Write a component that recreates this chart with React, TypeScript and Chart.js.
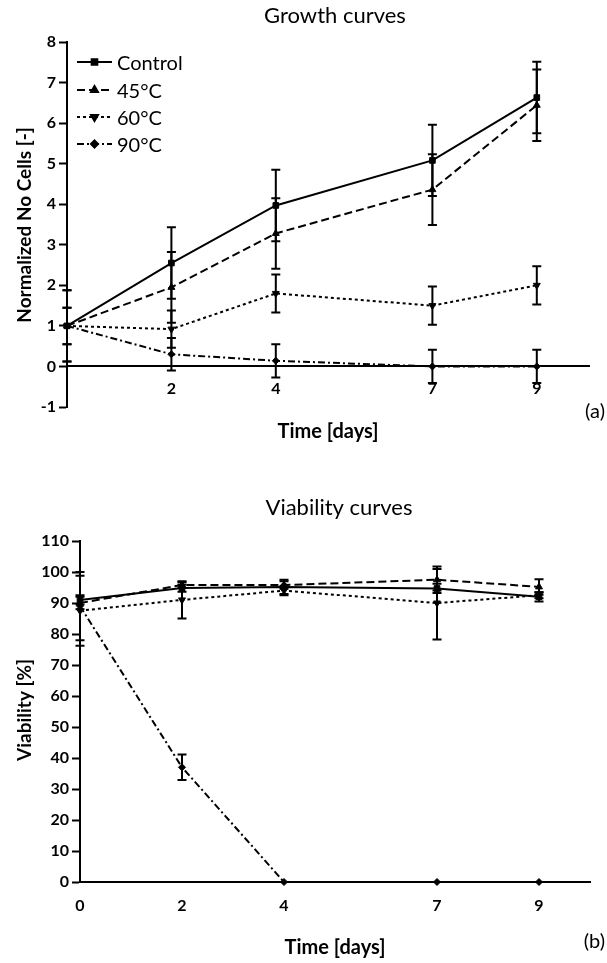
import React, { useEffect, useRef } from 'react';
import { Chart, registerables } from 'chart.js';
import { drawPoint } from 'chart.js/helpers';

Chart.register(...registerables);

// ---------- data ----------
const days = [0, 2, 4, 7, 9];
const seriesNames = ['Control', '45°C', '60°C', '90°C'];

const growthControl = [1, 2.55, 3.97, 5.08, 6.63];
const growth45 = [1, 1.95, 3.28, 4.36, 6.44];
const growth60 = [1, 0.92, 1.8, 1.5, 2.0];
const growth90 = [1, 0.3, 0.14, 0.0, 0.0];

const growthErrControl = [0.88, 0.88, 0.88, 0.88, 0.88];
const growthErr45 = [0.88, 0.87, 0.87, 0.87, 0.88];
const growthErr60 = [0.45, 0.46, 0.47, 0.47, 0.47];
const growthErr90 = [0.45, 0.4, 0.41, 0.41, 0.41];

const viaControl = [91, 94.8, 95.2, 94.7, 92];
const via45 = [90, 95.8, 95.8, 97.5, 95.2];
const via60 = [87.5, 91, 94, 90, 92.5];
const via90 = [89, 37, 0, 0, 0];

const viaErrControl = [1.5, 1.2, 2.3, 1.5, 1.5];
const viaErr45 = [2, 1, 1.2, 3.5, 2.5];
const viaErr60 = [11.3, 6, 1.5, 11.8, 1];
const viaErr90 = [11, 4.1, 0, 0, 0];

const growthTicksX = [2, 4, 7, 9];
const viabilityTicksX = [0, 2, 4, 7, 9];

// ---------- styles ----------
const FONT = 'Lato, "Open Sans", sans-serif';
const seriesStyles = [
  { dash: [] as number[], pointStyle: 'rect', rotation: 0, radius: 4 },
  { dash: [8, 4], pointStyle: 'triangle', rotation: 0, radius: 4 },
  { dash: [3, 3], pointStyle: 'triangle', rotation: 180, radius: 4 },
  { dash: [7, 3, 2, 3], pointStyle: 'rectRot', rotation: 0, radius: 3.5 },
];

function makeDatasets(values: number[][], errors: number[][]) {
  return values.map((vals, i) => {
    const st = seriesStyles[i];
    return {
      label: seriesNames[i],
      data: days.map((d, j) => ({ x: d, y: vals[j] })),
      errors: errors[i],
      borderColor: '#000',
      backgroundColor: '#000',
      borderWidth: 2,
      borderDash: st.dash,
      pointStyle: st.pointStyle,
      pointRotation: st.rotation,
      pointRadius: st.radius,
      pointBorderWidth: 1,
      pointBackgroundColor: '#000',
      pointBorderColor: '#000',
      tension: 0,
      fill: false,
      clip: false,
    };
  });
}

const errorBarPlugin = {
  id: 'errorBars',
  afterDatasetsDraw(chart: any) {
    const { ctx } = chart;
    const x = chart.scales.x;
    const y = chart.scales.y;
    ctx.save();
    ctx.strokeStyle = '#000';
    ctx.lineWidth = 2;
    ctx.setLineDash([]);
    chart.data.datasets.forEach((ds: any) => {
      const errs: number[] = ds.errors;
      if (!errs) return;
      ds.data.forEach((pt: any, j: number) => {
        const e = errs[j];
        if (!e) return;
        const px = x.getPixelForValue(pt.x);
        const t = y.getPixelForValue(pt.y + e);
        const b = y.getPixelForValue(pt.y - e);
        ctx.beginPath();
        ctx.moveTo(px, t);
        ctx.lineTo(px, b);
        ctx.moveTo(px - 4.5, t);
        ctx.lineTo(px + 4.5, t);
        ctx.moveTo(px - 4.5, b);
        ctx.lineTo(px + 4.5, b);
        ctx.stroke();
      });
    });
    ctx.restore();
  },
};

const textPlugin = {
  id: 'texts',
  afterDraw(chart: any, _args: any, opts: any) {
    const { ctx } = chart;
    ctx.save();
    ctx.fillStyle = '#000';
    (opts.items || []).forEach((it: any) => {
      ctx.save();
      ctx.font = `${it.bold ? 'bold ' : ''}${it.size}px ${FONT}`;
      ctx.textAlign = it.align || 'center';
      ctx.textBaseline = 'middle';
      ctx.translate(it.x, it.y);
      if (it.rotate) ctx.rotate(-Math.PI / 2);
      ctx.fillText(it.text, 0, 0);
      ctx.restore();
    });
    if (opts.legend) {
      const lg = opts.legend;
      chart.data.datasets.forEach((ds: any, i: number) => {
        const yy = lg.rows[i];
        ctx.save();
        ctx.strokeStyle = '#000';
        ctx.lineWidth = 2;
        ctx.setLineDash(ds.borderDash || []);
        ctx.beginPath();
        ctx.moveTo(lg.x0, yy);
        ctx.lineTo(lg.x1, yy);
        ctx.stroke();
        ctx.setLineDash([]);
        ctx.fillStyle = '#000';
        drawPoint(ctx, { pointStyle: ds.pointStyle, rotation: ds.pointRotation, radius: ds.pointRadius, borderWidth: 1 }, (lg.x0 + lg.x1) / 2, yy);
        ctx.font = `${lg.size}px ${FONT}`;
        ctx.textAlign = 'left';
        ctx.textBaseline = 'middle';
        ctx.fillText(ds.label, lg.tx, yy + 2);
        ctx.restore();
      });
    }
    ctx.restore();
  },
};

const tickFont = { family: FONT, size: 16, weight: 'bold' as const };

function growthConfig(): any {
  return {
    type: 'line',
    data: {
      datasets: makeDatasets(
        [growthControl, growth45, growth60, growth90],
        [growthErrControl, growthErr45, growthErr60, growthErr90]
      ),
    },
    options: {
      responsive: false,
      animation: false,
      devicePixelRatio: 1,
      events: [],
      layout: { padding: { top: 42, right: 18, bottom: 45, left: 0 } },
      scales: {
        x: {
          type: 'linear',
          min: 0,
          max: 10,
          position: { y: 0 },
          afterBuildTicks: (s: any) => {
            s.ticks = growthTicksX.map((v) => ({ value: v }));
          },
          ticks: { color: '#000', font: tickFont, padding: 13, autoSkip: false, maxRotation: 0 },
          grid: { drawOnChartArea: false, drawTicks: false },
          border: { display: true, color: '#000', width: 2 },
        },
        y: {
          type: 'linear',
          min: -1,
          max: 8,
          position: 'left',
          ticks: { stepSize: 1, color: '#000', font: tickFont, padding: 3 },
          grid: { drawOnChartArea: false, drawTicks: true, tickLength: 8, tickWidth: 2, tickColor: '#000' },
          border: { display: true, color: '#000', width: 2 },
          afterFit: (s: any) => {
            s.width = 67;
          },
        },
      },
      plugins: {
        legend: { display: false },
        tooltip: { enabled: false },
        texts: {
          items: [
            { text: 'Growth curves', x: 335, y: 16, size: 22 },
            { text: 'Normalized No Cells [-]', x: 25, y: 225, size: 19, bold: true, rotate: true },
            { text: 'Time [days]', x: 328, y: 432, size: 20, bold: true },
            { text: '(a)', x: 605, y: 412, size: 20, align: 'right' },
          ],
          legend: { x0: 77, x1: 112, tx: 117, size: 20, rows: [62, 90, 117, 144] },
        },
      },
    },
    plugins: [errorBarPlugin, textPlugin],
  };
}

function viabilityConfig(): any {
  return {
    type: 'line',
    data: {
      datasets: makeDatasets(
        [viaControl, via45, via60, via90],
        [viaErrControl, viaErr45, viaErr60, viaErr90]
      ),
    },
    options: {
      responsive: false,
      animation: false,
      devicePixelRatio: 1,
      events: [],
      layout: { padding: { top: 89, right: 17, bottom: 41, left: 0 } },
      scales: {
        x: {
          type: 'linear',
          min: 0,
          max: 10,
          position: 'bottom',
          afterBuildTicks: (s: any) => {
            s.ticks = viabilityTicksX.map((v) => ({ value: v }));
          },
          ticks: { color: '#000', font: tickFont, padding: 14, autoSkip: false, maxRotation: 0 },
          grid: { drawOnChartArea: false, drawTicks: false },
          border: { display: true, color: '#000', width: 2 },
          afterFit: (s: any) => {
            s.height = 40;
          },
        },
        y: {
          type: 'linear',
          min: 0,
          max: 110,
          position: 'left',
          ticks: { stepSize: 10, color: '#000', font: tickFont, padding: 3 },
          grid: { drawOnChartArea: false, drawTicks: true, tickLength: 8, tickWidth: 2, tickColor: '#000' },
          border: { display: true, color: '#000', width: 2 },
          afterFit: (s: any) => {
            s.width = 80;
          },
        },
      },
      plugins: {
        legend: { display: false },
        tooltip: { enabled: false },
        texts: {
          items: [
            { text: 'Viability curves', x: 339, y: 56, size: 22 },
            { text: 'Viability [%]', x: 25, y: 258, size: 19, bold: true, rotate: true },
            { text: 'Time [days]', x: 335, y: 496, size: 20, bold: true },
            { text: '(b)', x: 605, y: 490, size: 20, align: 'right' },
          ],
        },
      },
    },
    plugins: [errorBarPlugin, textPlugin],
  };
}

function ChartCanvas({ makeConfig, top, height }: { makeConfig: () => any; top: number; height: number }) {
  const ref = useRef<HTMLCanvasElement>(null);
  useEffect(() => {
    const chart = new Chart(ref.current as HTMLCanvasElement, makeConfig());
    return () => chart.destroy();
  }, [makeConfig]);
  return (
    <canvas
      ref={ref}
      width={607}
      height={height}
      style={{ position: 'absolute', left: 0, top, width: 607, height, display: 'block' }}
    />
  );
}

export default function App() {
  return (
    <div style={{ position: 'absolute', left: 0, top: 0, width: 607, height: 963, background: '#fff', overflow: 'hidden' }}>
      <ChartCanvas makeConfig={growthConfig} top={0} height={452} />
      <ChartCanvas makeConfig={viabilityConfig} top={452} height={511} />
    </div>
  );
}
